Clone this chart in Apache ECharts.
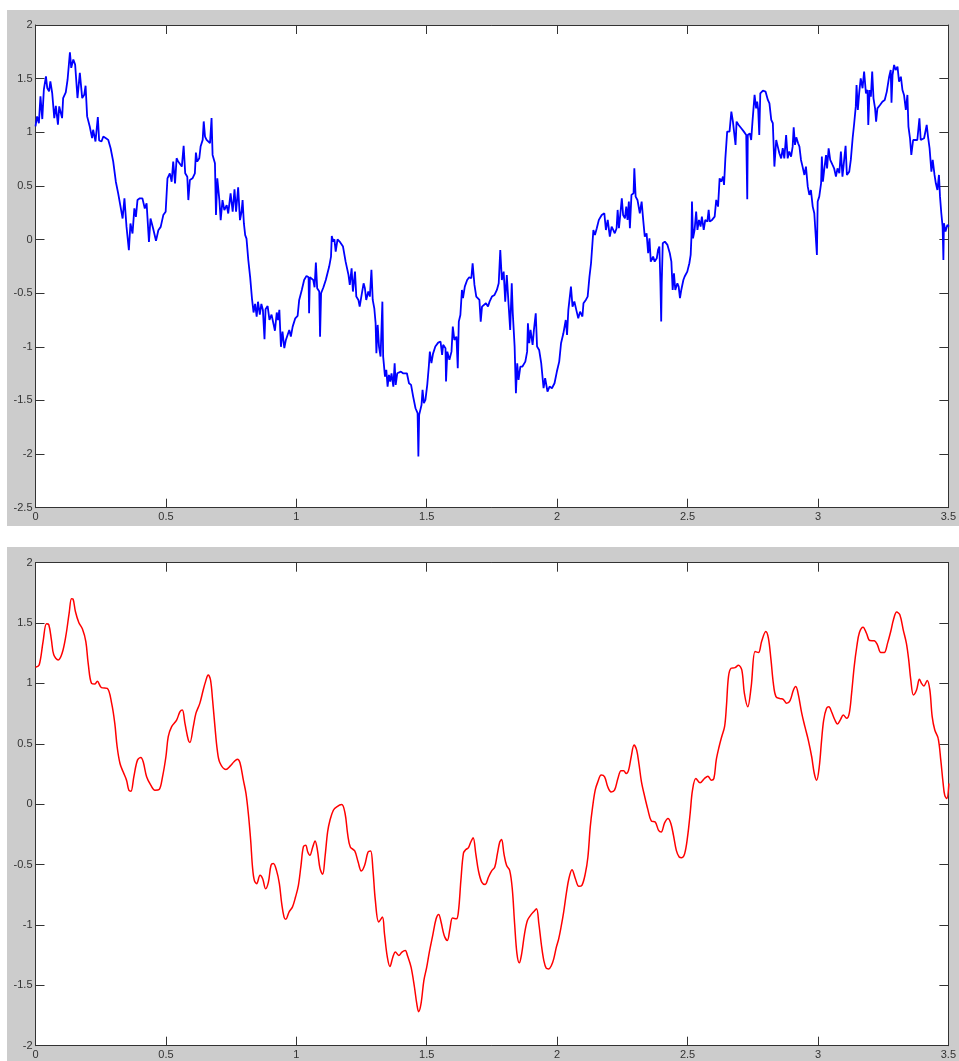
<!DOCTYPE html>
<html>
<head>
<meta charset="utf-8">
<script src="https://cdn.jsdelivr.net/npm/echarts@6/dist/echarts.min.js"></script>
<style>
  html, body { margin: 0; padding: 0; background: #ffffff; }
  #chart { width: 959px; height: 1061px; }
</style>
</head>
<body>
<div id="chart"></div>
<script>
// Raw noisy path: [t, value] samples
const rawPath = [
  [0.000,1.054],[0.006,1.148],[0.013,1.085],[0.019,1.335],[0.026,1.123],[0.032,1.397],[0.040,1.522],[0.045,1.413],
  [0.052,1.381],[0.057,1.475],[0.064,1.366],[0.072,1.132],[0.078,1.247],[0.086,1.070],[0.091,1.241],[0.097,1.241],
  [0.102,1.132],[0.106,1.319],[0.116,1.372],[0.123,1.490],[0.132,1.746],[0.137,1.600],[0.145,1.678],[0.152,1.631],
  [0.161,1.319],[0.170,1.553],[0.179,1.319],[0.187,1.350],[0.192,1.434],[0.198,1.148],[0.208,1.054],[0.217,0.945],
  [0.221,1.023],[0.230,0.914],[0.239,1.141],[0.244,0.923],[0.253,0.914],[0.260,0.960],[0.270,0.945],[0.279,0.929],
  [0.288,0.851],[0.298,0.727],[0.308,0.539],[0.317,0.430],[0.326,0.306],[0.334,0.196],[0.341,0.384],[0.349,0.118],
  [0.358,-0.100],[0.364,0.150],[0.372,0.056],[0.379,0.290],[0.385,0.212],[0.391,0.368],[0.400,0.384],[0.410,0.384],
  [0.419,0.290],[0.426,0.337],[0.435,-0.022],[0.441,0.196],[0.451,0.103],[0.462,-0.012],[0.471,0.087],[0.480,0.118],
  [0.490,0.228],[0.499,0.259],[0.506,0.571],[0.515,0.617],[0.522,0.539],[0.528,0.727],[0.535,0.524],[0.541,0.758],
  [0.547,0.727],[0.554,0.742],[0.561,0.680],[0.568,0.873],[0.574,0.617],[0.582,0.586],[0.586,0.368],[0.592,0.555],
  [0.602,0.571],[0.611,0.617],[0.615,0.811],[0.620,0.727],[0.628,0.758],[0.633,0.867],[0.641,0.929],[0.645,1.101],
  [0.650,0.960],[0.656,0.929],[0.662,0.945],[0.669,0.898],[0.675,1.132],[0.679,0.789],[0.688,0.711],[0.692,0.228],
  [0.697,0.571],[0.705,0.368],[0.710,0.181],[0.717,0.368],[0.724,0.274],[0.733,0.321],[0.739,0.243],[0.748,0.430],
  [0.756,0.259],[0.763,0.468],[0.769,0.259],[0.777,0.486],[0.784,0.181],[0.790,0.259],[0.794,0.368],[0.799,0.150],
  [0.804,0.041],[0.809,0.009],[0.816,-0.193],[0.823,-0.350],[0.830,-0.550],[0.836,-0.680],[0.842,-0.600],[0.848,-0.720],
  [0.853,-0.580],[0.860,-0.700],[0.866,-0.600],[0.872,-0.660],[0.878,-0.930],[0.882,-0.650],[0.890,-0.620],[0.897,-0.750],
  [0.905,-0.700],[0.912,-0.780],[0.918,-0.850],[0.925,-0.680],[0.930,-0.750],[0.935,-0.656],[0.941,-1.000],[0.947,-0.858],
  [0.954,-1.013],[0.960,-0.936],[0.966,-0.951],[0.973,-0.843],[0.979,-0.905],[0.986,-0.812],[0.996,-0.734],[1.005,-0.712],
  [1.011,-0.563],[1.021,-0.470],[1.030,-0.377],[1.039,-0.339],[1.047,-0.352],[1.049,-0.687],[1.052,-0.352],[1.058,-0.339],
  [1.065,-0.377],[1.070,-0.445],[1.075,-0.215],[1.080,-0.454],[1.088,-0.485],[1.091,-0.905],[1.095,-0.501],[1.104,-0.445],
  [1.113,-0.377],[1.126,-0.252],[1.133,-0.159],[1.136,0.033],[1.141,-0.019],[1.146,0.002],[1.151,-0.113],[1.158,0.002],
  [1.166,-0.019],[1.179,-0.066],[1.189,-0.206],[1.200,-0.330],[1.205,-0.423],[1.212,-0.268],[1.217,-0.485],[1.225,-0.299],
  [1.230,-0.532],[1.238,-0.563],[1.243,-0.625],[1.251,-0.507],[1.258,-0.408],[1.263,-0.454],[1.268,-0.563],[1.276,-0.485],
  [1.282,-0.532],[1.288,-0.283],[1.293,-0.563],[1.299,-0.641],[1.304,-0.780],[1.307,-1.060],[1.312,-0.796],[1.317,-0.998],
  [1.323,-1.091],[1.330,-0.579],[1.333,-1.091],[1.340,-1.278],[1.345,-1.215],[1.350,-1.371],[1.355,-1.262],[1.360,-1.324],
  [1.365,-1.247],[1.372,-1.371],[1.377,-1.153],[1.381,-1.355],[1.387,-1.247],[1.393,-1.262],[1.401,-1.231],[1.409,-1.247],
  [1.416,-1.231],[1.424,-1.247],[1.432,-1.340],[1.440,-1.355],[1.448,-1.464],[1.457,-1.573],[1.465,-1.619],[1.468,-2.023],
  [1.471,-1.635],[1.480,-1.542],[1.484,-1.402],[1.489,-1.526],[1.495,-1.495],[1.502,-1.355],[1.508,-1.184],[1.512,-1.045],
  [1.518,-1.153],[1.524,-1.066],[1.533,-0.998],[1.544,-0.961],[1.553,-0.951],[1.559,-1.076],[1.563,-0.982],[1.572,-1.013],
  [1.574,-1.324],[1.579,-1.045],[1.587,-1.122],[1.595,-1.045],[1.600,-0.812],[1.606,-0.936],[1.614,-0.905],[1.619,-1.200],
  [1.623,-0.765],[1.629,-0.703],[1.635,-0.470],[1.639,-0.547],[1.646,-0.439],[1.655,-0.377],[1.663,-0.352],[1.671,-0.361],
  [1.676,-0.221],[1.683,-0.423],[1.690,-0.532],[1.697,-0.516],[1.702,-0.563],[1.707,-0.765],[1.712,-0.625],[1.719,-0.641],
  [1.727,-0.594],[1.735,-0.625],[1.741,-0.579],[1.750,-0.532],[1.760,-0.516],[1.769,-0.470],[1.776,-0.408],[1.782,-0.097],
  [1.788,-0.377],[1.795,-0.299],[1.801,-0.579],[1.807,-0.330],[1.814,-0.610],[1.820,-0.843],[1.826,-0.408],[1.830,-0.687],
  [1.837,-0.998],[1.842,-1.433],[1.847,-1.153],[1.852,-1.309],[1.859,-1.184],[1.867,-1.184],[1.878,-1.138],[1.885,-1.045],
  [1.888,-0.780],[1.893,-0.967],[1.898,-0.843],[1.906,-0.982],[1.911,-0.843],[1.918,-0.687],[1.923,-0.998],[1.931,-1.029],
  [1.939,-1.153],[1.948,-1.386],[1.954,-1.293],[1.963,-1.417],[1.971,-1.371],[1.980,-1.386],[1.990,-1.340],[1.999,-1.231],
  [2.008,-1.138],[2.015,-0.967],[2.024,-0.874],[2.033,-0.750],[2.038,-0.889],[2.043,-0.656],[2.053,-0.439],[2.059,-0.625],
  [2.066,-0.578],[2.075,-0.672],[2.081,-0.734],[2.088,-0.672],[2.097,-0.718],[2.101,-0.594],[2.110,-0.563],[2.117,-0.532],
  [2.124,-0.345],[2.130,-0.221],[2.139,0.089],[2.145,0.043],[2.152,0.105],[2.160,0.183],[2.171,0.229],[2.181,0.245],
  [2.187,0.089],[2.194,0.183],[2.202,0.027],[2.209,0.120],[2.215,0.089],[2.221,0.058],[2.228,0.105],[2.232,0.276],
  [2.237,0.105],[2.242,0.229],[2.248,0.385],[2.253,0.229],[2.260,0.198],[2.265,0.307],[2.270,0.183],[2.275,0.354],
  [2.279,0.105],[2.285,0.416],[2.293,0.431],[2.296,0.664],[2.301,0.400],[2.308,0.369],[2.317,0.245],[2.324,0.354],
  [2.330,0.183],[2.336,0.027],[2.343,0.058],[2.349,-0.128],[2.354,0.012],[2.359,-0.206],[2.368,-0.159],[2.374,-0.206],
  [2.382,-0.175],[2.387,-0.097],[2.392,-0.066],[2.396,-0.408],[2.399,-0.765],[2.401,-0.408],[2.405,-0.035],[2.413,-0.019],
  [2.423,-0.050],[2.432,-0.128],[2.438,-0.206],[2.443,-0.470],[2.448,-0.314],[2.453,-0.470],[2.461,-0.408],[2.466,-0.439],
  [2.471,-0.547],[2.476,-0.470],[2.484,-0.377],[2.489,-0.345],[2.499,-0.299],[2.507,-0.221],[2.512,-0.143],[2.515,0.027],
  [2.517,0.354],[2.521,0.012],[2.527,0.089],[2.533,0.260],[2.538,0.089],[2.544,0.183],[2.550,0.120],[2.555,0.214],
  [2.562,0.089],[2.568,0.183],[2.576,0.167],[2.581,0.276],[2.585,0.167],[2.594,0.183],[2.604,0.214],[2.610,0.369],
  [2.617,0.307],[2.623,0.571],[2.629,0.540],[2.636,0.586],[2.640,0.509],[2.645,0.757],[2.652,1.006],[2.661,1.006],
  [2.668,1.192],[2.674,1.099],[2.680,1.099],[2.684,0.882],[2.688,1.099],[2.696,1.068],[2.706,1.037],[2.716,1.006],
  [2.725,0.975],[2.729,0.375],[2.731,0.975],[2.739,0.990],[2.744,0.928],[2.749,1.099],[2.757,1.348],[2.763,1.223],
  [2.767,1.285],[2.771,1.208],[2.775,0.975],[2.779,1.363],[2.789,1.388],[2.799,1.379],[2.808,1.301],[2.814,1.270],
  [2.821,1.115],[2.827,1.084],[2.833,0.680],[2.840,0.928],[2.846,0.866],[2.852,0.804],[2.859,0.757],[2.865,0.851],
  [2.871,0.757],[2.878,0.975],[2.884,0.757],[2.890,0.820],[2.897,0.773],[2.903,0.866],[2.907,1.046],[2.912,0.882],
  [2.917,0.953],[2.924,0.898],[2.929,0.866],[2.935,0.742],[2.941,0.680],[2.948,0.602],[2.954,0.680],[2.961,0.493],
  [2.967,0.416],[2.973,0.462],[2.980,0.307],[2.986,0.245],[2.993,0.260],[2.996,-0.144],[2.999,0.354],[3.005,0.400],
  [3.012,0.524],[3.015,0.773],[3.019,0.540],[3.024,0.649],[3.031,0.788],[3.035,0.664],[3.041,0.851],[3.047,0.742],
  [3.056,0.695],[3.062,0.664],[3.069,0.586],[3.075,0.664],[3.082,0.618],[3.088,0.820],[3.094,0.586],[3.101,0.602],
  [3.106,0.873],[3.111,0.602],[3.120,0.633],[3.126,0.742],[3.133,0.944],[3.139,1.084],[3.145,1.239],[3.148,1.441],
  [3.153,1.208],[3.158,1.363],[3.164,1.503],[3.171,1.410],[3.177,1.565],[3.184,1.363],[3.190,1.394],[3.193,1.068],
  [3.198,1.394],[3.203,1.332],[3.208,1.565],[3.213,1.317],[3.219,1.223],[3.223,1.099],[3.228,1.223],[3.238,1.254],
  [3.247,1.285],[3.256,1.301],[3.264,1.379],[3.273,1.518],[3.279,1.581],[3.282,1.276],[3.286,1.534],[3.292,1.627],
  [3.298,1.581],[3.305,1.612],[3.311,1.472],[3.318,1.518],[3.324,1.394],[3.330,1.348],[3.337,1.208],[3.343,1.348],
  [3.347,1.053],[3.353,0.944],[3.358,0.788],[3.365,0.928],[3.371,0.913],[3.381,0.928],[3.389,1.130],[3.394,0.928],
  [3.407,0.944],[3.417,1.068],[3.422,0.959],[3.428,0.851],[3.435,0.633],[3.440,0.742],[3.447,0.602],[3.452,0.524],
  [3.458,0.462],[3.464,0.602],[3.468,0.400],[3.473,0.245],[3.478,0.120],[3.481,-0.190],[3.483,0.152],[3.489,0.074],
  [3.496,0.136],[3.502,0.120]
];

// Filtered (smoothed) path: [t, value] samples
const smoothPath = [
  [0.000,1.134],[0.014,1.153],[0.029,1.347],[0.042,1.494],[0.051,1.486],[0.061,1.361],[0.070,1.237],[0.087,1.195],
  [0.102,1.250],[0.116,1.389],[0.129,1.582],[0.138,1.701],[0.144,1.698],[0.153,1.596],[0.166,1.505],[0.180,1.450],
  [0.193,1.347],[0.202,1.167],[0.215,1.001],[0.228,0.996],[0.237,1.018],[0.253,0.965],[0.275,0.960],[0.292,0.835],
  [0.304,0.669],[0.313,0.476],[0.324,0.337],[0.336,0.268],[0.349,0.199],[0.358,0.116],[0.366,0.108],[0.377,0.227],
  [0.391,0.365],[0.404,0.387],[0.413,0.351],[0.426,0.227],[0.442,0.158],[0.458,0.116],[0.474,0.122],[0.487,0.227],
  [0.500,0.393],[0.509,0.559],[0.522,0.642],[0.541,0.697],[0.554,0.766],[0.563,0.780],[0.573,0.669],[0.586,0.531],
  [0.592,0.512],[0.605,0.642],[0.615,0.752],[0.630,0.835],[0.643,0.946],[0.652,1.015],[0.662,1.071],[0.671,1.029],
  [0.679,0.863],[0.688,0.642],[0.697,0.448],[0.707,0.343],[0.730,0.288],[0.746,0.315],[0.761,0.351],[0.774,0.373],
  [0.784,0.343],[0.797,0.199],[0.807,0.089],[0.816,-0.077],[0.825,-0.299],[0.832,-0.520],[0.839,-0.631],[0.848,-0.658],
  [0.861,-0.589],[0.871,-0.617],[0.882,-0.700],[0.893,-0.645],[0.903,-0.506],[0.912,-0.492],[0.924,-0.548],[0.935,-0.658],
  [0.944,-0.824],[0.953,-0.935],[0.960,-0.952],[0.972,-0.893],[0.985,-0.852],[0.997,-0.769],[1.008,-0.672],[1.018,-0.506],
  [1.027,-0.354],[1.036,-0.340],[1.044,-0.396],[1.052,-0.423],[1.063,-0.354],[1.072,-0.304],[1.081,-0.382],[1.091,-0.534],
  [1.101,-0.581],[1.110,-0.437],[1.120,-0.230],[1.129,-0.133],[1.142,-0.050],[1.155,-0.022],[1.174,-0.003],[1.187,-0.077],
  [1.197,-0.250],[1.207,-0.354],[1.224,-0.387],[1.237,-0.479],[1.249,-0.553],[1.262,-0.506],[1.275,-0.396],[1.285,-0.387],
  [1.294,-0.548],[1.303,-0.797],[1.316,-0.976],[1.330,-0.935],[1.338,-1.073],[1.349,-1.267],[1.359,-1.344],[1.370,-1.267],
  [1.380,-1.225],[1.393,-1.253],[1.405,-1.225],[1.418,-1.212],[1.426,-1.253],[1.440,-1.350],[1.453,-1.516],[1.462,-1.654],
  [1.469,-1.718],[1.478,-1.654],[1.489,-1.461],[1.500,-1.350],[1.510,-1.225],[1.523,-1.087],[1.536,-0.949],[1.546,-0.913],
  [1.555,-0.976],[1.567,-1.087],[1.579,-1.129],[1.589,-1.032],[1.599,-0.943],[1.614,-0.949],[1.622,-0.880],[1.631,-0.631],
  [1.641,-0.404],[1.650,-0.376],[1.660,-0.360],[1.669,-0.313],[1.678,-0.277],[1.688,-0.409],[1.698,-0.548],[1.711,-0.645],
  [1.724,-0.664],[1.737,-0.603],[1.749,-0.553],[1.761,-0.520],[1.771,-0.409],[1.780,-0.313],[1.787,-0.293],[1.796,-0.409],
  [1.806,-0.506],[1.818,-0.548],[1.828,-0.700],[1.837,-0.990],[1.846,-1.239],[1.855,-1.314],[1.864,-1.239],[1.875,-1.073],
  [1.886,-0.963],[1.898,-0.921],[1.911,-0.888],[1.921,-0.866],[1.930,-0.990],[1.940,-1.170],[1.949,-1.295],[1.958,-1.358],
  [1.968,-1.364],[1.978,-1.336],[1.987,-1.281],[1.997,-1.184],[2.006,-1.115],[2.015,-1.018],[2.025,-0.893],[2.036,-0.728],
  [2.045,-0.617],[2.057,-0.542],[2.070,-0.617],[2.083,-0.680],[2.095,-0.672],[2.108,-0.575],[2.118,-0.437],[2.127,-0.188],
  [2.136,-0.022],[2.146,0.116],[2.156,0.185],[2.169,0.241],[2.182,0.227],[2.194,0.144],[2.207,0.102],[2.220,0.116],
  [2.233,0.213],[2.245,0.277],[2.255,0.277],[2.265,0.254],[2.274,0.282],[2.284,0.393],[2.295,0.490],[2.305,0.448],
  [2.314,0.330],[2.323,0.190],[2.335,0.070],[2.348,-0.045],[2.361,-0.138],[2.376,-0.147],[2.389,-0.216],[2.399,-0.230],
  [2.412,-0.155],[2.425,-0.119],[2.436,-0.160],[2.446,-0.257],[2.457,-0.382],[2.468,-0.437],[2.478,-0.443],[2.489,-0.409],
  [2.500,-0.271],[2.510,-0.077],[2.519,0.116],[2.532,0.213],[2.548,0.177],[2.565,0.213],[2.578,0.232],[2.591,0.199],
  [2.601,0.213],[2.610,0.365],[2.621,0.476],[2.631,0.559],[2.642,0.642],[2.649,0.808],[2.657,1.057],[2.667,1.126],
  [2.682,1.131],[2.695,1.151],[2.708,1.112],[2.718,0.918],[2.731,0.808],[2.744,0.974],[2.759,1.264],[2.772,1.256],
  [2.784,1.347],[2.800,1.430],[2.810,1.375],[2.820,1.195],[2.829,1.001],[2.839,0.891],[2.855,0.874],[2.867,0.869],
  [2.880,0.835],[2.893,0.858],[2.906,0.946],[2.915,0.974],[2.925,0.905],[2.938,0.752],[2.950,0.642],[2.963,0.531],
  [2.976,0.393],[2.986,0.254],[2.995,0.199],[3.005,0.310],[3.014,0.531],[3.022,0.697],[3.033,0.794],[3.042,0.808],
  [3.052,0.766],[3.065,0.697],[3.075,0.664],[3.087,0.703],[3.097,0.739],[3.110,0.711],[3.120,0.752],[3.129,0.918],
  [3.139,1.140],[3.149,1.306],[3.159,1.422],[3.173,1.466],[3.186,1.416],[3.199,1.355],[3.216,1.353],[3.228,1.320],
  [3.241,1.256],[3.254,1.256],[3.267,1.334],[3.279,1.430],[3.290,1.532],[3.302,1.591],[3.314,1.568],[3.327,1.444],
  [3.339,1.334],[3.348,1.195],[3.356,1.029],[3.366,0.905],[3.378,0.946],[3.389,1.035],[3.397,1.001],[3.406,0.979],
  [3.419,1.024],[3.429,0.946],[3.438,0.725],[3.448,0.614],[3.461,0.545],[3.471,0.365],[3.480,0.172],[3.486,0.075],
  [3.494,0.047],[3.502,0.172]
];

// Axis ranges and tick steps
const xRange = [0, 3.5];
const xStep = 0.5;
const topYRange = [-2.5, 2];
const bottomYRange = [-2, 2];
const yStep = 0.5;

const AXIS_COLOR = '#333333';
const LABEL_FONT = { color: '#333333', fontSize: 11, fontFamily: 'Liberation Sans, Arial, sans-serif' };

function xAxisPair(gridIndex) {
  const base = {
    gridIndex, type: 'value', min: xRange[0], max: xRange[1], interval: xStep,
    axisLine: { show: true, onZero: false, lineStyle: { color: AXIS_COLOR, width: 1 } },
    axisTick: { show: true, inside: true, length: 9, lineStyle: { color: AXIS_COLOR } },
    splitLine: { show: false }
  };
  return [
    Object.assign({}, base, { position: 'bottom', axisLabel: Object.assign({ margin: 4 }, LABEL_FONT) }),
    Object.assign({}, base, { position: 'top', axisLabel: { show: false } })
  ];
}

function yAxisPair(gridIndex, range) {
  const base = {
    gridIndex, type: 'value', min: range[0], max: range[1], interval: yStep,
    axisLine: { show: true, onZero: false, lineStyle: { color: AXIS_COLOR, width: 1 } },
    axisTick: { show: true, inside: true, length: 9, lineStyle: { color: AXIS_COLOR } },
    splitLine: { show: false }
  };
  return [
    Object.assign({}, base, { position: 'left', axisLabel: Object.assign({ margin: 3 }, LABEL_FONT) }),
    Object.assign({}, base, { position: 'right', axisLabel: { show: false } })
  ];
}

const chart = echarts.init(document.getElementById('chart'), null, { renderer: 'canvas' });

chart.setOption({
  animation: false,
  backgroundColor: '#ffffff',
  graphic: [
    { type: 'rect', z: -100, silent: true, shape: { x: 7, y: 10, width: 952, height: 516 }, style: { fill: '#cccccc' } },
    { type: 'rect', z: -100, silent: true, shape: { x: 7, y: 547, width: 952, height: 514 }, style: { fill: '#cccccc' } }
  ],
  grid: [
    { left: 35.5, top: 25, width: 915.5, height: 482.7, show: true, backgroundColor: '#ffffff', borderWidth: 0 },
    { left: 35.5, top: 562.7, width: 915.5, height: 483, show: true, backgroundColor: '#ffffff', borderWidth: 0 }
  ],
  xAxis: [...xAxisPair(0), ...xAxisPair(1)],
  yAxis: [...yAxisPair(0, topYRange), ...yAxisPair(1, bottomYRange)],
  series: [
    {
      type: 'line', xAxisIndex: 0, yAxisIndex: 0, data: rawPath,
      showSymbol: false, lineStyle: { color: '#0000ff', width: 1.8 }, clip: true
    },
    {
      type: 'line', xAxisIndex: 2, yAxisIndex: 2, data: smoothPath,
      showSymbol: false, smooth: 0.35, lineStyle: { color: '#ff0000', width: 1.5 }, clip: true
    }
  ]
});
</script>
</body>
</html>
